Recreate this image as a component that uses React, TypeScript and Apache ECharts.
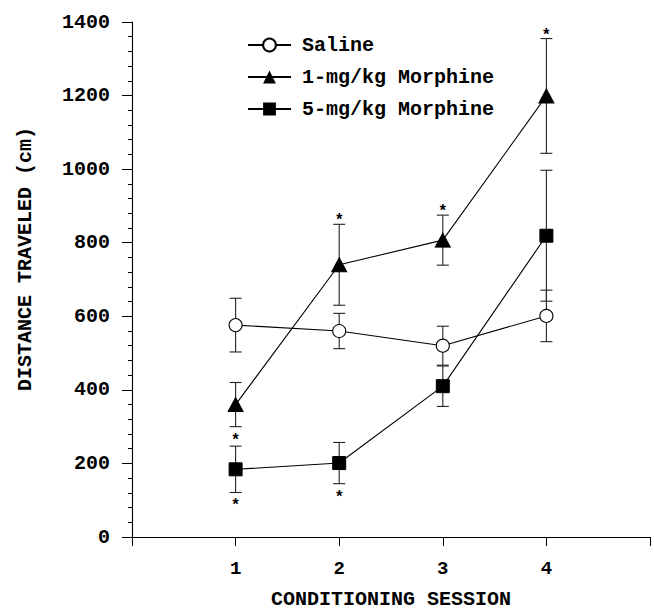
import React, { useEffect, useRef } from "react";
import * as echarts from "echarts";

const sessions = [1, 2, 3, 4];
const salineMean = [576, 560, 520, 601];
const salineErr = [73, 48, 53, 70];
const morph1Mean = [360, 740, 807, 1199];
const morph1Err = [60, 110, 68, 156];
const morph5Mean = [184, 201, 410, 819];
const morph5Err = [63, 56, 55, 178];
const morph1Stars = ["below", "above", "above", "above"];
const morph5Stars = ["below", "below", "", ""];
const salineStars = ["", "", "", ""];
const seriesNames = ["Saline", "1-mg/kg Morphine", "5-mg/kg Morphine"];
const yTicks = [0, 200, 400, 600, 800, 1000, 1200, 1400];
const xTitle = "CONDITIONING SESSION";
const yTitle = "DISTANCE TRAVELED (cm)";

const FONT = "Courier New, Courier, Nimbus Mono PS, FreeMono, Liberation Mono, monospace";

function errorSeries(means: number[], errs: number[], stars: string[]) {
  const data = sessions.map((s, i) => [s, means[i], errs[i], stars[i] === "above" ? 1 : stars[i] === "below" ? -1 : 0]);
  return {
    type: "custom",
    silent: true,
    z: 1,
    data,
    encode: { x: 0, y: 1 },
    renderItem: (params: any, api: any) => {
      const x = api.value(0);
      const m = api.value(1);
      const e = api.value(2);
      const st = api.value(3);
      const top = api.coord([x, m + e]);
      const bot = api.coord([x, m - e]);
      const hw = 6;
      const stroke = { stroke: "#222", lineWidth: 1.1 };
      const children: any[] = [
        { type: "line", shape: { x1: top[0], y1: top[1], x2: bot[0], y2: bot[1] }, style: stroke },
        { type: "line", shape: { x1: top[0] - hw, y1: top[1], x2: top[0] + hw, y2: top[1] }, style: stroke },
        { type: "line", shape: { x1: bot[0] - hw, y1: bot[1], x2: bot[0] + hw, y2: bot[1] }, style: stroke },
      ];
      const starStyle = { text: "*", fontSize: 16, fontWeight: "bold", fontFamily: FONT, fill: "#000", align: "center", verticalAlign: "middle" };
      if (st === 1) {
        children.push({ type: "text", x: top[0], y: top[1] - 3, style: starStyle });
      } else if (st === -1) {
        children.push({ type: "text", x: bot[0], y: bot[1] + 14, style: starStyle });
      }
      return { type: "group", children };
    },
  };
}

export default function App() {
  const ref = useRef<HTMLDivElement>(null);
  useEffect(() => {
    if (!ref.current) return;
    const chart = echarts.init(ref.current, undefined, { renderer: "svg" });
    const lineCommon = {
      type: "line",
      z: 3,
      lineStyle: { color: "#000", width: 1.1 },
      itemStyle: { color: "#000", borderColor: "#000" },
    };
    chart.setOption({
      animation: false,
      backgroundColor: "#fff",
      grid: { left: 132, right: 4, top: 22, bottom: 72, containLabel: false, outerBoundsMode: "none" },
      graphic: [
        {
          type: "text",
          x: 25,
          y: 259,
          rotation: Math.PI / 2,
          style: { text: yTitle, fontFamily: FONT, fontSize: 20, fontWeight: "bold", fill: "#000", align: "center", verticalAlign: "middle" },
        },
      ],
      legend: {
        orient: "vertical",
        left: 247,
        top: 35,
        padding: 0,
        itemWidth: 43,
        itemHeight: 16,
        itemGap: 12,
        data: seriesNames,
        textStyle: { fontFamily: FONT, fontSize: 20, fontWeight: "bold", color: "#000", padding: [0, 0, 0, 6] },
        selectedMode: false,
      },
      xAxis: {
        type: "value",
        min: 0,
        max: 5,
        interval: 1,
        name: xTitle,
        nameLocation: "middle",
        nameGap: 54,
        nameTextStyle: { fontFamily: FONT, fontSize: 20, lineHeight: 16, fontWeight: "bold", color: "#000" },
        axisLine: { show: true, onZero: false, lineStyle: { color: "#000", width: 1.1 } },
        axisTick: { show: true, length: 9, lineStyle: { color: "#000" } },
        axisLabel: {
          margin: 22,
          fontFamily: FONT,
          fontSize: 19,
          fontWeight: "bold",
          color: "#000",
          formatter: (v: number) => (sessions.indexOf(v) >= 0 ? String(v) : ""),
        },
        splitLine: { show: false },
      },
      yAxis: {
        type: "value",
        min: 0,
        max: 1400,
        interval: 200,
        axisLine: { show: true, lineStyle: { color: "#000", width: 1.1 } },
        axisTick: { show: true, length: 10, lineStyle: { color: "#000" } },
        minorTick: { show: true, splitNumber: 5, length: 4, lineStyle: { color: "#000" } },
        axisLabel: {
          margin: 22,
          fontFamily: FONT,
          fontSize: 20,
          fontWeight: "bold",
          color: "#000",
          formatter: (v: number) => (yTicks.indexOf(v) >= 0 ? String(v) : ""),
        },
        splitLine: { show: false },
      },
      series: [
        errorSeries(salineMean, salineErr, salineStars),
        errorSeries(morph1Mean, morph1Err, morph1Stars),
        errorSeries(morph5Mean, morph5Err, morph5Stars),
        {
          ...lineCommon,
          name: seriesNames[0],
          data: sessions.map((s, i) => [s, salineMean[i]]),
          symbol: "circle",
          symbolSize: 13,
          itemStyle: { color: "#fff", borderColor: "#000", borderWidth: 1.1 },
        },
        {
          ...lineCommon,
          name: seriesNames[1],
          data: sessions.map((s, i) => [s, morph1Mean[i]]),
          symbol: "triangle",
          symbolSize: [15, 14],
        },
        {
          ...lineCommon,
          name: seriesNames[2],
          data: sessions.map((s, i) => [s, morph5Mean[i]]),
          symbol: "rect",
          symbolSize: 13,
        },
      ],
    });
    return () => chart.dispose();
  }, []);
  return <div ref={ref} style={{ position: "absolute", left: 0, top: 0, width: 654, height: 609 }} />;
}
